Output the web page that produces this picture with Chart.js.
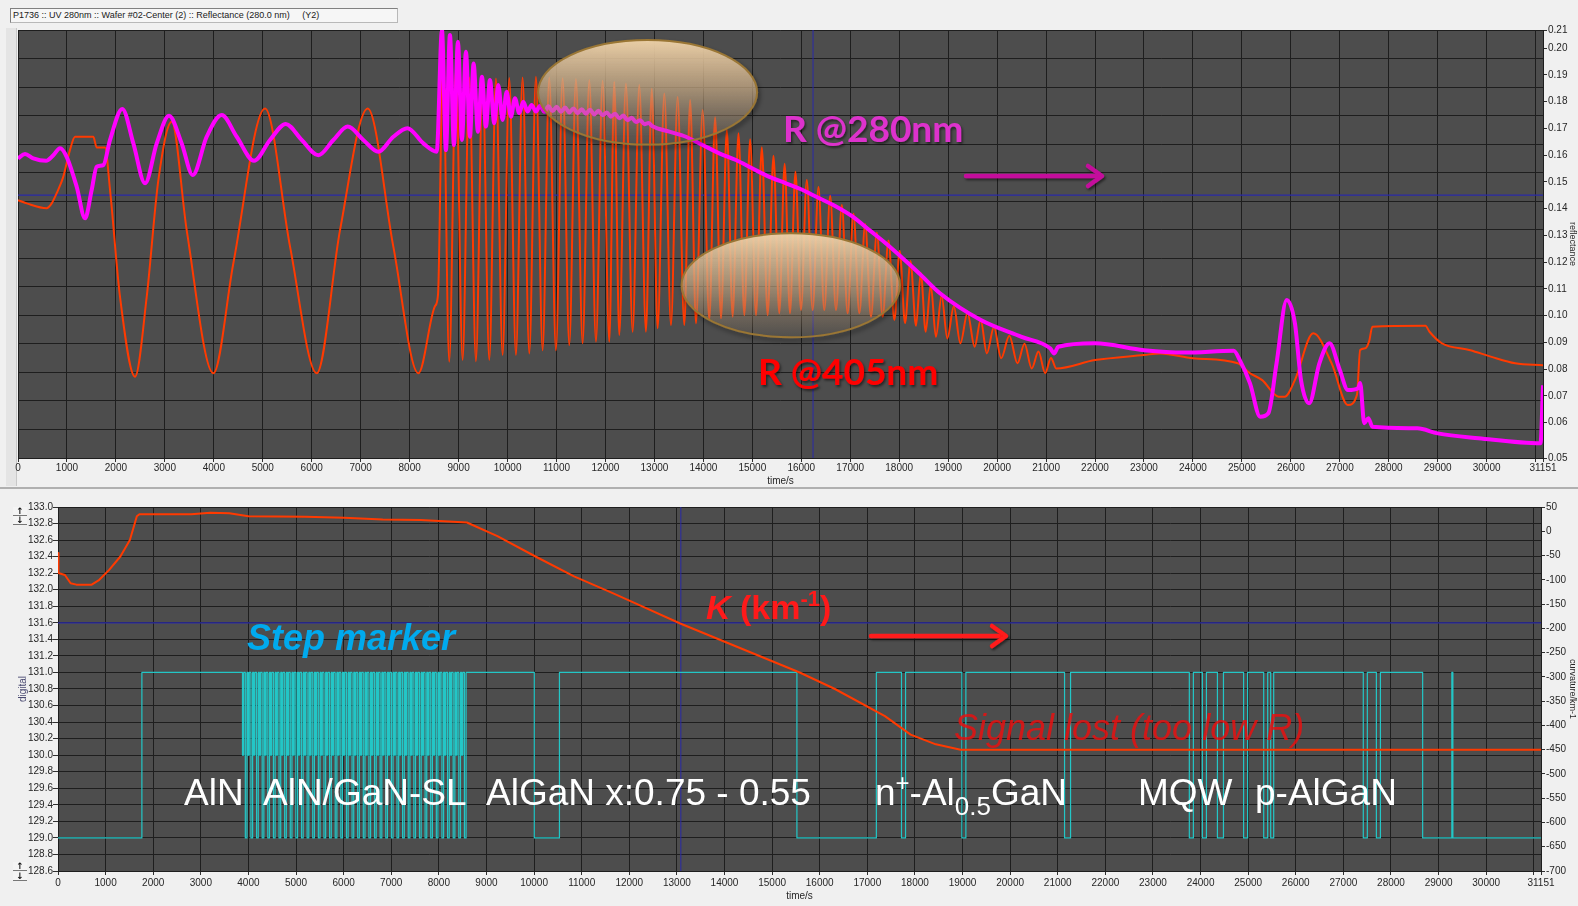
<!DOCTYPE html>
<html>
<head>
<meta charset="utf-8">
<script src="https://cdn.jsdelivr.net/npm/chart.js@4.4.1/dist/chart.umd.min.js"></script>
<style>
  html, body { margin: 0; padding: 0; background: #f0f0f0; width: 1578px; height: 906px; overflow: hidden; }
  canvas { position: absolute; left: 0; }
  #top { top: 0; }
  #bot { top: 490px; }
  .titlebox { position: absolute; left: 10px; top: 8px; width: 388px; height: 15px; box-sizing: border-box;
    border: 1px solid #b8b8b8; border-top-color: #808080; border-left-color: #808080; background: #f6f6f6;
    font: 9px 'Liberation Sans', Arial, sans-serif; line-height: 13px; padding-left: 2px; color: #202020; white-space: pre; }
  .strip { position: absolute; left: 6px; top: 28px; width: 10px; height: 458px; background: #e4e4e4; border-right: 1px solid #c8c8c8; }
  .sep { position: absolute; left: 0; top: 487px; width: 1578px; height: 2px; background: #b0b0b0; }
  .btn { position: absolute; left: 13px; width: 14px; height: 8px; font: bold 9px 'DejaVu Sans', sans-serif; line-height: 8px;
    text-align: center; color: #111; background: #f4f4f4; border-bottom: 1px solid #777; }
  #ov { position: absolute; left: 0; top: 0; pointer-events: none; }
</style>
</head>
<body>
<div class="strip"></div>
<canvas id="top" width="1578" height="490"></canvas>
<canvas id="bot" width="1578" height="416"></canvas>
<div class="sep"></div>
<div class="titlebox">P1736 :: UV 280nm :: Wafer #02-Center (2) :: Reflectance (280.0 nm)     (Y2)</div>
<div class="btn" style="top:507px">↑</div>
<div class="btn" style="top:516px">↓</div>
<div class="btn" style="top:862px">↑</div>
<div class="btn" style="top:872px">↓</div>

<svg id="ov" width="1578" height="906" viewBox="0 0 1578 906" xmlns="http://www.w3.org/2000/svg">
  <defs>
    <linearGradient id="lens" x1="0" y1="0" x2="0" y2="1">
      <stop offset="0" stop-color="#f0d3aa" stop-opacity="0.96"/>
      <stop offset="0.45" stop-color="#d8b890" stop-opacity="0.62"/>
      <stop offset="1" stop-color="#b89a78" stop-opacity="0.04"/>
    </linearGradient>
    <filter id="shadow" x="-20%" y="-30%" width="140%" height="160%">
      <feDropShadow dx="2" dy="3" stdDeviation="2" flood-color="#000" flood-opacity="0.45"/>
    </filter>
    <filter id="tshadow" x="-10%" y="-30%" width="120%" height="160%">
      <feDropShadow dx="1.5" dy="2" stdDeviation="1.2" flood-color="#000" flood-opacity="0.5"/>
    </filter>
  </defs>

  <!-- highlight lenses over the reflectance traces -->
  <ellipse cx="647.6" cy="92.3" rx="109.5" ry="52.3" fill="url(#lens)" stroke="#9a7634" stroke-width="2" filter="url(#shadow)"/>
  <ellipse cx="790.8" cy="285.3" rx="109.2" ry="52" fill="url(#lens)" stroke="#9a7634" stroke-width="2" filter="url(#shadow)"/>

  <!-- reflectance panel labels -->
  <text x="783" y="142" font-family="Lato, 'Open Sans', sans-serif" font-weight="700" font-size="37" fill="#dd33cc" filter="url(#tshadow)">R @280nm</text>
  <text x="758" y="385" font-family="Lato, 'Open Sans', sans-serif" font-weight="700" font-size="37" fill="#ff0000" filter="url(#tshadow)">R @405nm</text>
  <g stroke="#c4109c" stroke-width="4.5" fill="none" stroke-linecap="round" stroke-linejoin="round" filter="url(#tshadow)">
    <path d="M966 176 H1100"/>
    <path d="M1088 166 L1102 176 L1088 186"/>
  </g>

  <!-- curvature panel labels -->
  <text x="247" y="650" font-family="'Liberation Sans', Arial, sans-serif" font-weight="700" font-style="italic" font-size="36" fill="#00aaee">Step marker</text>
  <text x="706" y="619" font-family="'Liberation Sans', Arial, sans-serif" font-weight="700" font-style="italic" font-size="34" fill="#ff1a1a">K <tspan font-style="normal">(km</tspan><tspan dy="-13" font-size="22" font-style="normal">-1</tspan><tspan dy="13" font-style="normal">)</tspan></text>
  <g stroke="#ff1a1a" stroke-width="4.5" fill="none" stroke-linecap="round" stroke-linejoin="round" filter="url(#tshadow)">
    <path d="M871 636 H1004"/>
    <path d="M992 626 L1006 636 L992 646"/>
  </g>
  <text x="954" y="740" font-family="'Liberation Sans', Arial, sans-serif" font-style="italic" font-size="36" fill="#e81010" fill-opacity="0.85">Signal lost (too low R)</text>

  <g font-family="'Liberation Sans', Arial, sans-serif" font-size="37" fill="#ffffff">
    <text x="184" y="805">AlN</text>
    <text x="263" y="805">AlN/GaN-SL</text>
    <text x="486" y="805">AlGaN x:0.75 - 0.55</text>
    <text x="875" y="805">n<tspan dy="-14" font-size="24">+</tspan><tspan dy="14">-Al</tspan><tspan dy="10" font-size="26">0.5</tspan><tspan dy="-10">GaN</tspan></text>
    <text x="1138" y="805">MQW</text>
    <text x="1255" y="805">p-AlGaN</text>
  </g>
</svg>

<script>
// ---------- axes ----------
const T_END = 31151;
const timeTicks = [0, 1000, 2000, 3000, 4000, 5000, 6000, 7000, 8000, 9000, 10000, 11000, 12000, 13000, 14000, 15000,
  16000, 17000, 18000, 19000, 20000, 21000, 22000, 23000, 24000, 25000, 26000, 27000, 28000, 29000, 30000, 31000, 31151];
const timeTicksUnlabelled = [31000];
const reflTicks = [0.0468, 0.06, 0.07, 0.08, 0.09, 0.10, 0.11, 0.12, 0.13, 0.14, 0.15, 0.16, 0.17, 0.18, 0.19, 0.20, 0.2068];
const reflGridDivisions = 15;
const digitalTicks = [128.6, 128.8, 129.0, 129.2, 129.4, 129.6, 129.8, 130.0, 130.2, 130.4, 130.6, 130.8,
  131.0, 131.2, 131.4, 131.6, 131.8, 132.0, 132.2, 132.4, 132.6, 132.8, 133.0];
const curvTicks = [-700, -650, -600, -550, -500, -450, -400, -350, -300, -250, -200, -150, -100, -50, 0, 50];

// ---------- reflectance at 405 nm: [time s, reflectance] ----------
const r405 = [
  [0, 0.1432], [177, 0.1420], [586, 0.1402], [688, 0.1420], [790, 0.1458], [926, 0.1520], [1062, 0.1620], [1165, 0.1669],
  [1539, 0.1669], [1607, 0.1629], [1777, 0.1629], [1880, 0.1470], [2084, 0.1070], [2390, 0.0772], [2629, 0.1070],
  [2867, 0.1507], [3140, 0.1725], [3446, 0.1320], [3991, 0.0785], [4400, 0.1197], [5046, 0.1775], [5557, 0.1258],
  [6102, 0.0785], [6578, 0.1320], [7144, 0.1775], [7667, 0.1258], [8178, 0.0785], [8519, 0.1036], [8580, 0.1080],
  [8680, 0.1960], [8809, 0.0828], [8945, 0.1920], [9082, 0.0834], [9218, 0.1890], [9354, 0.0830], [9490, 0.1888],
  [9627, 0.0834], [9763, 0.1887], [9899, 0.0853], [10035, 0.1889], [10171, 0.0853], [10307, 0.1890], [10444, 0.0859],
  [10580, 0.1893], [10716, 0.0871], [10852, 0.1890], [10988, 0.0871], [11125, 0.1888], [11261, 0.0890], [11397, 0.1885],
  [11533, 0.0897], [11670, 0.1881], [11806, 0.0903], [11942, 0.1878], [12078, 0.0903], [12180, 0.1875], [12282, 0.0928],
  [12418, 0.1868], [12555, 0.0940], [12691, 0.1862], [12827, 0.0940], [12946, 0.1848], [13066, 0.0953], [13202, 0.1831],
  [13338, 0.0965], [13474, 0.1818], [13610, 0.0965], [13730, 0.1806], [13849, 0.0971], [13985, 0.1769], [14121, 0.0984],
  [14240, 0.1742], [14360, 0.0990], [14479, 0.1694], [14598, 0.0996], [14717, 0.1682], [14836, 0.1002], [14955, 0.1660],
  [15075, 0.1002], [15194, 0.1630], [15313, 0.1002], [15432, 0.1598], [15551, 0.1009], [15660, 0.1568], [15769, 0.1009],
  [15881, 0.1538], [15994, 0.1021], [16113, 0.1507], [16232, 0.1021], [16351, 0.1481], [16470, 0.1021], [16590, 0.1448],
  [16709, 0.1021], [16828, 0.1414], [16947, 0.1009], [17066, 0.1381], [17186, 0.1009], [17305, 0.1343], [17424, 0.0996],
  [17543, 0.1311], [17662, 0.0996], [17781, 0.1281], [17901, 0.0984], [18010, 0.1243], [18120, 0.0972], [18230, 0.1204],
  [18343, 0.0962], [18442, 0.1160], [18541, 0.0940], [18645, 0.1115], [18750, 0.0921], [18866, 0.1075], [18983, 0.0915],
  [19116, 0.1035], [19250, 0.0897], [19395, 0.1010], [19541, 0.0884], [19665, 0.0984], [19790, 0.0859], [19936, 0.0958],
  [20083, 0.0841], [20250, 0.0925], [20416, 0.0822], [20560, 0.0895], [20707, 0.0803], [20845, 0.0866], [20982, 0.0785],
  [21100, 0.0842], [21208, 0.0803], [22000, 0.0834], [23000, 0.0853], [23333, 0.0859], [24000, 0.0841], [24916, 0.0822],
  [25166, 0.0785], [25416, 0.0759], [25750, 0.0697], [25875, 0.0697], [26083, 0.0759], [26458, 0.0934], [26833, 0.0822],
  [27166, 0.0666], [27350, 0.0704], [27416, 0.0872], [27520, 0.0878], [27600, 0.0905], [27666, 0.0959], [28750, 0.0962],
  [28833, 0.0940], [29083, 0.0897], [29666, 0.0871], [30083, 0.0847], [30583, 0.0822], [31151, 0.0815]
];

// ---------- reflectance at 280 nm: [time s, reflectance] ----------
const r280 = [
  [0, 0.1588], [143, 0.1604], [313, 0.1588], [572, 0.1579], [722, 0.1600], [858, 0.1626], [994, 0.1594], [1199, 0.1482],
  [1369, 0.1364], [1505, 0.1470], [1607, 0.1557], [1743, 0.1563], [1880, 0.1657], [2131, 0.1773], [2356, 0.1644],
  [2595, 0.1495], [2834, 0.1644], [3085, 0.1747], [3344, 0.1644], [3569, 0.1526], [3855, 0.1669], [4161, 0.1750],
  [4468, 0.1669], [4821, 0.1579], [5148, 0.1657], [5469, 0.1717], [5796, 0.1657], [6135, 0.1600], [6442, 0.1657],
  [6736, 0.1707], [7055, 0.1657], [7361, 0.1613], [7667, 0.1669], [7953, 0.1701], [8280, 0.1644], [8553, 0.1613],
  [8660, 0.2068], [8741, 0.1619], [8823, 0.2049], [8905, 0.1638], [8986, 0.2024], [9068, 0.1657], [9150, 0.1987],
  [9232, 0.1669], [9306, 0.1943], [9395, 0.1688], [9477, 0.1893], [9558, 0.1707], [9640, 0.1881], [9729, 0.1719],
  [9810, 0.1862], [9899, 0.1732], [9981, 0.1837], [10069, 0.1744], [10151, 0.1813], [10239, 0.1757], [10321, 0.1800],
  [10409, 0.1763], [10491, 0.1788], [10580, 0.1763], [10665, 0.1785], [10750, 0.1762], [10835, 0.1783], [10920, 0.1765],
  [11005, 0.1781], [11090, 0.1762], [11175, 0.1778], [11261, 0.1760], [11345, 0.1775], [11430, 0.1757], [11515, 0.1772],
  [11600, 0.1755], [11685, 0.1770], [11770, 0.1752], [11855, 0.1766], [11942, 0.1749], [12025, 0.1760], [12110, 0.1744],
  [12195, 0.1755], [12282, 0.1738], [12365, 0.1748], [12450, 0.1731], [12535, 0.1740], [12623, 0.1724], [12710, 0.1731],
  [12795, 0.1716], [12880, 0.1720], [12963, 0.1708], [13304, 0.1688], [13644, 0.1669], [13985, 0.1638], [14325, 0.1607],
  [14666, 0.1582], [15006, 0.1550], [15347, 0.1519], [15687, 0.1495], [16028, 0.1470], [16232, 0.1451], [16709, 0.1408],
  [17050, 0.1370], [17390, 0.1320], [17730, 0.1270], [18071, 0.1215], [18411, 0.1158], [18833, 0.1084], [19667, 0.0984],
  [20500, 0.0921], [21083, 0.0878], [21166, 0.0859], [21250, 0.0884], [22000, 0.0897], [23000, 0.0871], [23833, 0.0862],
  [24833, 0.0869], [24958, 0.0834], [25166, 0.0747], [25375, 0.0622], [25540, 0.0635], [25708, 0.0822], [25916, 0.1059],
  [26083, 0.0972], [26208, 0.0759], [26375, 0.0673], [26583, 0.0822], [26791, 0.0897], [27000, 0.0797], [27166, 0.0722],
  [27375, 0.0729], [27416, 0.0748], [27500, 0.0598], [27583, 0.0617], [27666, 0.0585], [28583, 0.0579], [29000, 0.0560],
  [29833, 0.0542], [31100, 0.0523], [31151, 0.0740]
];

// ---------- wafer curvature: [time s, km^-1] ----------
const curvature = [
  [0, -45], [10, -86], [145, -90], [265, -107], [386, -110], [708, -110], [868, -100], [1070, -80], [1310, -52],
  [1510, -18], [1656, 31], [1710, 35], [2800, 35], [3200, 38], [3600, 37], [4000, 31], [5200, 30], [6010, 28],
  [6820, 24], [7620, 23], [8590, 18], [9230, -10], [10030, -52], [10840, -93], [11640, -127], [12190, -151],
  [13070, -190], [15580, -291], [16320, -325], [17370, -381], [17910, -419], [18440, -439], [18960, -450], [31151, -450]
];

// ---------- recipe step marker (digital level) ----------
const stepsBeforeSL = [[0, 129.0], [1762, 131.0]];
const slPeriodStarts = [3875, 3993, 4111, 4229, 4347, 4465, 4583, 4701, 4819, 4937, 5055, 5173, 5291, 5409, 5527, 5645,
  5763, 5881, 5999, 6117, 6235, 6353, 6471, 6589, 6707, 6825, 6943, 7061, 7179, 7297, 7415, 7533, 7651, 7769, 7887,
  8005, 8123, 8241, 8359, 8477];
const slPeriodSteps = [[0, 130.0], [25, 131.0], [60, 129.0], [95, 131.0]];
const stepsAfterSL = [[8589, 131.0], [10005, 129.0], [10533, 131.0], [15521, 129.0], [17190, 131.0], [17718, 129.0],
  [17803, 131.0], [18986, 129.0], [19070, 131.0], [21143, 129.0], [21269, 131.0], [23764, 129.0], [23849, 131.0],
  [24038, 129.0], [24123, 131.0], [24354, 129.0], [24481, 131.0], [24904, 129.0], [24988, 131.0], [25326, 129.0],
  [25410, 131.0], [25473, 129.0], [25536, 131.0], [27418, 129.0], [27503, 131.0], [27693, 129.0], [27778, 131.0],
  [28665, 129.0], [29278, 131.0], [29300, 129.0], [31151, 129.0]];

// ---------- cursors ----------
const cursorTop = { time: 16240, refl: 0.1451 };
const cursorBot = { time: 13083, digital: 131.6 };

// ---------- styling ----------
const C = { plot: '#4d4d4d', grid: '#1e1e1e', text: '#262626', orange: '#ff3a00', magenta: '#ff00ff',
  cyan: '#23c6c6', cursor: '#2a2aa8', tick: '#303030' };
const TICK_FONT = "'Liberation Sans Narrow', 'Liberation Sans', Arial, sans-serif";

const toXY = arr => arr.map(([x, y]) => ({ x, y }));

const plotBg = {
  id: 'plotBg',
  beforeDraw(chart, args, opts) {
    const { ctx, chartArea: a } = chart;
    ctx.save();
    ctx.fillStyle = opts.color;
    ctx.fillRect(a.left, a.top, a.width, a.height);
    ctx.restore();
  }
};

function timeAxis(height, labelPad, titlePad) {
  return {
    type: 'linear', position: 'bottom', min: 0, max: T_END,
    afterBuildTicks: s => { s.ticks = timeTicks.map(v => ({ value: v })); },
    afterFit: s => { s.height = height; },
    ticks: { autoSkip: false, maxRotation: 0, minRotation: 0, padding: labelPad, color: C.text,
      font: { family: TICK_FONT, size: 10 },
      callback: v => timeTicksUnlabelled.includes(v) ? '' : String(v) },
    grid: { color: C.grid, lineWidth: 1, drawTicks: true, tickLength: 4, tickColor: C.tick },
    border: { display: true, color: C.grid },
    title: { display: true, text: 'time/s', color: C.text, font: { family: TICK_FONT, size: 10 },
      padding: { top: 0, bottom: titlePad } }
  };
}

const common = {
  responsive: false, animation: false, devicePixelRatio: 1, events: [],
  elements: { point: { radius: 0 }, line: { borderJoinStyle: 'round' } },
};

// ---------- reflectance panel ----------
const reflMin = reflTicks[0], reflMax = reflTicks[reflTicks.length - 1];
new Chart(document.getElementById('top'), {
  type: 'line',
  data: {
    datasets: [
      { label: 'R @280nm', data: toXY(r280), borderColor: C.magenta, borderWidth: 4,
        cubicInterpolationMode: 'monotone', yAxisID: 'y', order: 1 },
      { label: 'R @405nm', data: toXY(r405), borderColor: C.orange, borderWidth: 2,
        cubicInterpolationMode: 'monotone', yAxisID: 'y', order: 2 },
      { label: 'cursor t', data: [{ x: cursorTop.time, y: reflMin }, { x: cursorTop.time, y: reflMax }],
        borderColor: C.cursor, borderWidth: 1, yAxisID: 'y', order: 3 },
      { label: 'cursor R', data: [{ x: 0, y: cursorTop.refl }, { x: T_END, y: cursorTop.refl }],
        borderColor: C.cursor, borderWidth: 1.2, yAxisID: 'y', order: 3 }
    ]
  },
  options: {
    ...common,
    layout: { padding: { left: 18, top: 30, right: 0, bottom: 0 } },
    plugins: { legend: { display: false }, tooltip: { enabled: false }, plotBg: { color: C.plot } },
    scales: {
      x: timeAxis(32, 0, 3),
      y: {
        type: 'linear', position: 'right', min: reflMin, max: reflMax,
        afterBuildTicks: s => { s.ticks = reflTicks.map(v => ({ value: v })); },
        afterFit: s => { s.width = 35; },
        ticks: { autoSkip: false, padding: 1, color: C.text, font: { family: TICK_FONT, size: 10 },
          callback: v => v.toFixed(2) },
        grid: { drawOnChartArea: false, drawTicks: true, tickLength: 4, tickColor: C.tick },
        border: { display: true, color: C.grid },
        title: { display: true, text: 'reflectance', color: C.text, font: { family: TICK_FONT, size: 9 },
          padding: { top: 0, bottom: 0 } }
      },
      yGrid: {
        type: 'linear', position: 'left', min: 0, max: reflGridDivisions,
        ticks: { display: false, stepSize: 1 },
        grid: { color: C.grid, drawTicks: false },
        border: { display: false },
        afterFit: s => { s.width = 0; }
      }
    }
  },
  plugins: [plotBg]
});

// ---------- curvature / step-marker panel ----------
const stepData = [...stepsBeforeSL];
slPeriodStarts.forEach(t0 => slPeriodSteps.forEach(([dt, lvl]) => stepData.push([t0 + dt, lvl])));
stepData.push(...stepsAfterSL);

new Chart(document.getElementById('bot'), {
  type: 'line',
  data: {
    datasets: [
      { label: 'K (km-1)', data: toXY(curvature), borderColor: C.orange, borderWidth: 2, tension: 0,
        yAxisID: 'yK', order: 1 },
      { label: 'step marker', data: toXY(stepData), borderColor: C.cyan, borderWidth: 1.2, stepped: true,
        yAxisID: 'yD', order: 2 },
      { label: 'cursor t', data: [{ x: cursorBot.time, y: digitalTicks[0] }, { x: cursorBot.time, y: digitalTicks[digitalTicks.length - 1] }],
        borderColor: C.cursor, borderWidth: 1, yAxisID: 'yD', order: 3 },
      { label: 'cursor d', data: [{ x: 0, y: cursorBot.digital }, { x: T_END, y: cursorBot.digital }],
        borderColor: C.cursor, borderWidth: 1.2, yAxisID: 'yD', order: 3 }
    ]
  },
  options: {
    ...common,
    layout: { padding: { left: 0, top: 17, right: 0, bottom: 0 } },
    plugins: { legend: { display: false }, tooltip: { enabled: false }, plotBg: { color: C.plot } },
    scales: {
      x: timeAxis(35, 2, 4),
      yD: {
        type: 'linear', position: 'left', min: digitalTicks[0], max: digitalTicks[digitalTicks.length - 1],
        afterBuildTicks: s => { s.ticks = digitalTicks.map(v => ({ value: v })); },
        afterFit: s => { s.width = 58; },
        ticks: { autoSkip: false, padding: 0, color: C.text, font: { family: TICK_FONT, size: 10 },
          callback: v => v.toFixed(1) },
        grid: { color: C.grid, drawTicks: true, tickLength: 5, tickColor: C.tick },
        border: { display: true, color: C.grid },
        title: { display: true, text: 'digital', color: '#4a4a72', font: { family: TICK_FONT, size: 10 },
          padding: { top: 17, bottom: 0 } }
      },
      yK: {
        type: 'linear', position: 'right', min: curvTicks[0], max: curvTicks[curvTicks.length - 1],
        afterBuildTicks: s => { s.ticks = curvTicks.map(v => ({ value: v })); },
        afterFit: s => { s.width = 37; },
        ticks: { autoSkip: false, padding: 1, color: C.text, font: { family: TICK_FONT, size: 10 } },
        grid: { drawOnChartArea: false, drawTicks: true, tickLength: 4, tickColor: C.tick },
        border: { display: true, color: C.grid },
        title: { display: true, text: 'curvature/km-1', color: C.text, font: { family: TICK_FONT, size: 9 },
          padding: { top: 0, bottom: 0 } }
      }
    }
  },
  plugins: [plotBg]
});
</script>
</body>
</html>
